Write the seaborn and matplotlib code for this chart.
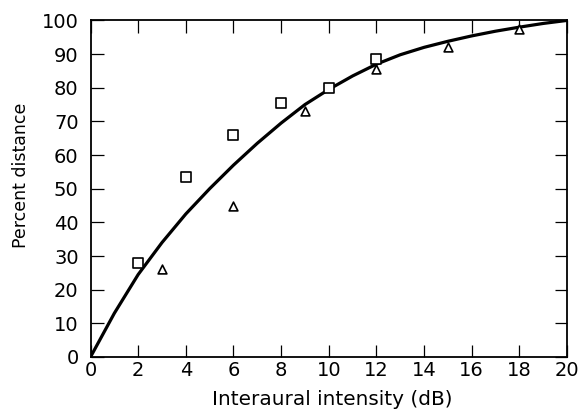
import matplotlib
matplotlib.use("Agg")
import matplotlib.pyplot as plt
from matplotlib import font_manager
import seaborn as sns
import pandas as pd

# Measured points: two listener groups
square_db = [2, 4, 6, 8, 10, 12]
square_pct = [28, 53.5, 66, 75.5, 80, 88.5]
triangle_db = [3, 6, 9, 12, 15, 18]
triangle_pct = [26, 45, 73, 85.5, 92, 97.5]

# Smooth trend curve through the data
curve_db = list(range(0, 21))
curve_pct = [0, 13, 24.5, 34, 42.5, 50, 57, 63.5, 69.5, 75, 79.5,
             83.5, 87, 89.8, 92, 93.8, 95.4, 96.8, 98, 99.1, 100]

x_ticks = list(range(0, 21, 2))
y_ticks = list(range(0, 101, 10))

sns.set_theme(style="ticks")
plt.rcParams["font.family"] = ["DejaVu Sans"]
plt.rcParams["text.color"] = "black"
plt.rcParams["axes.labelcolor"] = "black"
plt.rcParams["xtick.color"] = "black"
plt.rcParams["ytick.color"] = "black"

# Narrow face for the vertical axis title when available
installed = {f.name for f in font_manager.fontManager.ttflist}
if "Liberation Sans Narrow" in installed:
    ylabel_font, ylabel_size = "Liberation Sans Narrow", 15
else:
    ylabel_font, ylabel_size = "DejaVu Sans", 12.5

fig = plt.figure(figsize=(5.81, 4.15), dpi=100)
ax = fig.add_axes([0.1558, 0.1398, 0.8202, 0.811])

curve = pd.DataFrame({"db": curve_db, "pct": curve_pct})
squares = pd.DataFrame({"db": square_db, "pct": square_pct})
triangles = pd.DataFrame({"db": triangle_db, "pct": triangle_pct})

sns.lineplot(data=curve, x="db", y="pct", ax=ax, color="black",
             linewidth=2.3, zorder=2)
sns.scatterplot(data=squares, x="db", y="pct", ax=ax, marker="s", s=42,
                facecolor="white", edgecolor="black", linewidth=1.2, zorder=3)
sns.scatterplot(data=triangles, x="db", y="pct", ax=ax, marker="^", s=40,
                facecolor="white", edgecolor="black", linewidth=1.2, zorder=3)

ax.set_xlim(0, 20)
ax.set_ylim(0, 100)
ax.set_xticks(x_ticks)
ax.set_yticks(y_ticks)
ax.set_xticklabels([str(v) for v in x_ticks])
ax.set_yticklabels([str(v) for v in y_ticks])

for side in ["left", "right", "top", "bottom"]:
    ax.spines[side].set_visible(True)
    ax.spines[side].set_linewidth(1.3)
    ax.spines[side].set_color("black")

ax.tick_params(axis="both", which="major", direction="in", length=9,
               width=0.9, colors="black", labelsize=14,
               top=True, right=True)
ax.tick_params(axis="x", pad=3)
ax.tick_params(axis="y", pad=8.5)

ax.set_xlabel("Interaural intensity (dB)", fontsize=14.4, va="top")
ax.xaxis.set_label_coords(0.507, -0.098)
ax.set_ylabel("Percent distance", fontsize=ylabel_size, family=ylabel_font)
ax.yaxis.set_label_coords(-0.128, 0.54)

fig.savefig("out.png", dpi=100)
